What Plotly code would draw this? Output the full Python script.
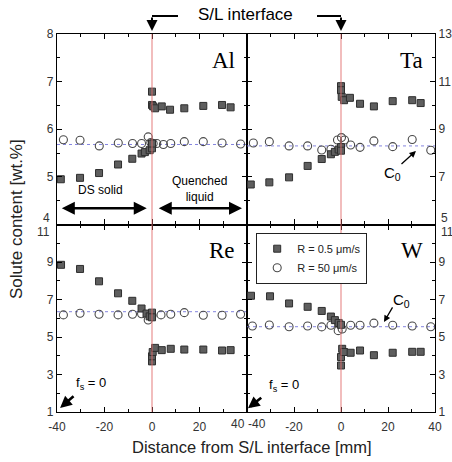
import plotly.graph_objects as go

W_PX, H_PX = 452, 462

# ---------------- data ----------------
al_sq_x = [-38.4, -30.3, -22.3, -14.3, -8.3, -4.4, -3.0, -1.0, 0.0, 0.0, 0.0, 0.0, 0.5, 1.3, 4.1, 7.6, 13.6, 21.6, 29.5, 33.1]
al_sq_y = [4.95, 4.98, 5.08, 5.26, 5.38, 5.49, 5.52, 5.56, 5.60, 5.70, 6.79, 6.51, 6.48, 6.44, 6.48, 6.41, 6.44, 6.49, 6.51, 6.46]
al_ci_x = [-37.3, -30.3, -22.2, -14.2, -8.2, -4.4, -1.6, -0.5, 0.5, 2.0, 4.8, 7.9, 13.6, 21.6, 29.5, 37.3]
al_ci_y = [5.78, 5.77, 5.65, 5.71, 5.70, 5.70, 5.84, 5.72, 5.70, 5.70, 5.68, 5.70, 5.74, 5.74, 5.71, 5.69]
al_c0 = 5.68

ta_sq_x = [-38.4, -30.5, -22.1, -14.2, -8.2, -4.3, -2.6, -1.0, 0.0, 0.0, 0.0, 0.0, 0.3, 1.3, 3.8, 8.1, 14.0, 22.0, 30.3, 33.9]
ta_sq_y = [6.68, 6.77, 6.98, 7.46, 7.75, 7.95, 8.05, 8.15, 8.25, 8.10, 10.81, 10.64, 10.36, 10.22, 10.32, 10.07, 9.96, 10.18, 10.22, 10.10]
ta_ci_x = [-37.3, -30.5, -22.1, -14.2, -8.2, -4.3, -1.5, 0.2, 1.5, 4.1, 8.1, 14.0, 22.0, 30.3, 38.2]
ta_ci_y = [8.42, 8.48, 8.30, 8.30, 8.13, 8.16, 8.55, 8.65, 8.55, 8.34, 8.24, 8.51, 8.27, 8.57, 8.12]
ta_c0 = 8.30

re_sq_x = [-38.3, -30.3, -22.3, -14.3, -8.3, -4.4, -2.3, -1.0, 0.0, 0.0, 0.0, 0.0, 0.3, 1.3, 4.1, 7.9, 13.6, 21.6, 29.5, 33.1]
re_sq_y = [8.85, 8.63, 7.97, 7.33, 6.93, 6.52, 6.25, 6.10, 6.30, 6.05, 3.70, 3.97, 4.20, 4.42, 4.30, 4.37, 4.33, 4.33, 4.28, 4.30]
re_ci_x = [-37.3, -30.3, -22.3, -14.3, -8.2, -4.4, -1.6, 0.0, 3.8, 7.9, 13.6, 21.6, 29.5, 37.3]
re_ci_y = [6.18, 6.27, 6.21, 6.18, 6.21, 6.24, 5.91, 6.15, 6.18, 6.21, 6.30, 6.16, 6.16, 6.21]
re_c0 = 6.35

w_sq_x = [-38.3, -30.2, -22.1, -14.2, -8.2, -4.3, -2.6, -1.0, 0.0, 0.0, 0.0, 0.5, 1.3, 4.1, 8.1, 14.0, 22.0, 30.3, 33.9]
w_sq_y = [7.20, 7.17, 6.79, 6.61, 6.39, 6.09, 5.90, 5.75, 5.65, 3.48, 3.93, 4.37, 4.20, 4.16, 4.28, 4.03, 4.16, 4.21, 4.21]
w_ci_x = [-37.7, -30.5, -22.1, -14.2, -8.2, -4.3, -1.2, 0.5, 4.1, 8.1, 14.0, 22.0, 30.3, 38.2]
w_ci_y = [5.59, 5.64, 5.55, 5.59, 5.54, 5.63, 5.34, 5.43, 5.63, 5.63, 5.74, 5.63, 5.59, 5.55]
w_c0 = 5.55

x_ticks = [-40, -20, 0, 20, 40]
al_ticks = [4, 5, 6, 7, 8]
ta_ticks = [5, 7, 9, 11, 13]
re_ticks = [1, 3, 5, 7, 9, 11]
w_ticks = [1, 3, 5, 7, 9, 11]
panel_names = ["Al", "Ta", "Re", "W"]
legend_names = ["R = 0.5 \u03bcm/s", "R = 50 \u03bcm/s"]

# ---------------- layout geometry ----------------
xl = [57 / W_PX, 247 / W_PX]
xr = [247 / W_PX, 435 / W_PX]
yt = [1 - 224.5 / H_PX, 1 - 34 / H_PX]
yb = [1 - 412 / H_PX, 1 - 224.5 / H_PX]

FONT = "Liberation Sans, Arial, sans-serif"
SERIF = "Liberation Serif, Times New Roman, serif"
SQ_FILL, SQ_EDGE = "#5e5e5e", "#2e2e2e"
CI_EDGE = "#4a4a4a"
RED = "rgba(225,110,110,0.9)"
BLUE = "rgba(120,120,220,0.9)"
TICKFONT = dict(family=FONT, size=12, color="#333")

fig = go.Figure()

panels = [
    ("x", "y", al_sq_x, al_sq_y, al_ci_x, al_ci_y, al_c0),
    ("x2", "y2", ta_sq_x, ta_sq_y, ta_ci_x, ta_ci_y, ta_c0),
    ("x3", "y3", re_sq_x, re_sq_y, re_ci_x, re_ci_y, re_c0),
    ("x4", "y4", w_sq_x, w_sq_y, w_ci_x, w_ci_y, w_c0),
]

for i, (xa, ya, sx, sy, cx, cy, c0) in enumerate(panels):
    fig.add_trace(go.Scatter(x=[-40, 40], y=[c0, c0], mode="lines", xaxis=xa, yaxis=ya,
                             line=dict(color=BLUE, width=1, dash="dot"), showlegend=False, hoverinfo="skip"))
    fig.add_trace(go.Scatter(x=cx, y=cy, mode="markers", xaxis=xa, yaxis=ya,
                             marker=dict(symbol="circle-open", size=8, color=CI_EDGE, line=dict(width=1.1, color=CI_EDGE)),
                             name=legend_names[1], showlegend=(i == 3), legendrank=2))
    fig.add_trace(go.Scatter(x=sx, y=sy, mode="markers", xaxis=xa, yaxis=ya,
                             marker=dict(symbol="square", size=7, color=SQ_FILL, line=dict(width=1, color=SQ_EDGE)),
                             name=legend_names[0], showlegend=(i == 3), legendrank=1))

axis_common = dict(showline=True, linecolor="black", linewidth=1.2, mirror="ticks",
                   ticks="inside", ticklen=5, tickwidth=1, tickcolor="black",
                   showgrid=False, zeroline=False, tickfont=TICKFONT, automargin=False)

def xaxis(domain, anchor, labels, hide=None):
    d = dict(axis_common)
    txt = ["" if v == hide else str(v) for v in x_ticks]
    d.update(domain=domain, anchor=anchor, range=[-40, 40], tickvals=x_ticks, ticktext=txt,
             showticklabels=labels, ticklabelstandoff=3,
             minor=dict(tickvals=[-30, -10, 10, 30], ticks="inside", ticklen=3, tickcolor="black"))
    return d

def yaxis(domain, anchor, rng, tickvals, minorvals, side, hide):
    d = dict(axis_common)
    txt = ["" if v == hide else str(v) for v in tickvals]
    d.update(domain=domain, anchor=anchor, range=rng, tickvals=tickvals, ticktext=txt, side=side,
             minor=dict(tickvals=minorvals, ticks="inside", ticklen=3, tickcolor="black"))
    return d

fig.update_layout(
    xaxis=xaxis(xl, "y", False),
    xaxis2=xaxis(xr, "y2", False),
    xaxis3=xaxis(xl, "y3", True, hide=40),
    xaxis4=xaxis(xr, "y4", True, hide=-40),
    yaxis=yaxis(yt, "x", [4, 8], al_ticks, [4.5, 5.5, 6.5, 7.5], "left", 4),
    yaxis2=yaxis(yt, "x2", [5, 13], ta_ticks, [6, 8, 10, 12], "right", 5),
    yaxis3=yaxis(yb, "x3", [1, 11], re_ticks, [2, 4, 6, 8, 10], "left", 11),
    yaxis4=yaxis(yb, "x4", [1, 11], w_ticks, [2, 4, 6, 8, 10], "right", 11),
)

shapes = []
for xa in ["x", "x2", "x3", "x4"]:
    shapes.append(dict(type="line", xref=xa, yref=xa.replace("x", "y") + " domain", x0=0, x1=0, y0=0, y1=1,
                       line=dict(color=RED, width=1)))

x0_left = xl[0] + (xl[1] - xl[0]) * 0.5
x0_right = xr[0] + (xr[1] - xr[0]) * 0.5
ytop_arrow = 1 - 16 / H_PX
shapes.append(dict(type="line", xref="paper", yref="paper", x0=178 / W_PX, x1=x0_left, y0=ytop_arrow, y1=ytop_arrow,
                   line=dict(color="black", width=2)))
shapes.append(dict(type="line", xref="paper", yref="paper", x0=317 / W_PX, x1=x0_right, y0=ytop_arrow, y1=ytop_arrow,
                   line=dict(color="black", width=2)))

annotations = []
annotations.append(dict(text="S/L interface", xref="paper", yref="paper", x=246 / W_PX, y=1 - 15 / H_PX,
                        showarrow=False, font=dict(family=FONT, size=17, color="black"), xanchor="center", yanchor="middle"))
for xp in [x0_left, x0_right]:
    annotations.append(dict(text="", xref="paper", yref="paper", x=xp, y=1 - 31 / H_PX, ax=0, ay=-15,
                            showarrow=True, arrowhead=2, arrowsize=1.1, arrowwidth=2, arrowcolor="black"))

# boundary tick labels, offset from each other as in the reference
annotations.append(dict(text=str(al_ticks[0]), xref="paper", yref="paper", x=52 / W_PX, y=1 - 218 / H_PX,
                        xanchor="right", yanchor="middle", showarrow=False, font=TICKFONT))
annotations.append(dict(text=str(re_ticks[-1]), xref="paper", yref="paper", x=52 / W_PX, y=1 - 232 / H_PX,
                        xanchor="right", yanchor="middle", showarrow=False, font=TICKFONT))
annotations.append(dict(text=str(ta_ticks[0]), xref="paper", yref="paper", x=439 / W_PX, y=1 - 218 / H_PX,
                        xanchor="left", yanchor="middle", showarrow=False, font=TICKFONT))
annotations.append(dict(text=str(w_ticks[-1]), xref="paper", yref="paper", x=439 / W_PX, y=1 - 232 / H_PX,
                        xanchor="left", yanchor="middle", showarrow=False, font=TICKFONT))
annotations.append(dict(text=str(x_ticks[-1]), xref="paper", yref="paper", x=247 / W_PX, y=1 - 424 / H_PX,
                        xanchor="right", yanchor="middle", showarrow=False, font=TICKFONT))
annotations.append(dict(text=str(x_ticks[0]), xref="paper", yref="paper", x=246 / W_PX, y=1 - 424 / H_PX,
                        xanchor="left", yanchor="middle", showarrow=False, font=TICKFONT))

annotations.append(dict(text="Solute content [wt.%]", xref="paper", yref="paper", x=16 / W_PX, y=1 - 219 / H_PX,
                        textangle=-90, showarrow=False, font=dict(family=FONT, size=17, color="#222"),
                        xanchor="center", yanchor="middle"))
annotations.append(dict(text="Distance from S/L interface [mm]", xref="paper", yref="paper", x=252 / W_PX, y=1 - 447 / H_PX,
                        showarrow=False, font=dict(family=FONT, size=16.5, color="#222"),
                        xanchor="center", yanchor="middle"))

for name, xa, ya in zip(panel_names, ["x", "x2", "x3", "x4"], ["y", "y2", "y3", "y4"]):
    annotations.append(dict(text=name, xref=xa + " domain", yref=ya + " domain", x=0.945, y=0.86,
                            showarrow=False, xanchor="right", yanchor="middle",
                            font=dict(family=SERIF, size=23, color="black")))

annotations.append(dict(text="DS solid", xref="x", yref="y", x=-21.5, y=4.72, showarrow=False,
                        font=dict(family=FONT, size=12, color="black")))
annotations.append(dict(text="Quenched<br>liquid", xref="x", yref="y", x=20, y=4.75, showarrow=False,
                        font=dict(family=FONT, size=12, color="black")))
for xa_, xb_ in [(-38.6, -2.2), (2.2, 37.9)]:
    annotations.append(dict(text="", xref="x", yref="y", x=xb_, y=4.34, ax=xa_, ay=4.34, axref="x", ayref="y",
                            showarrow=True, arrowhead=2, startarrowhead=2, arrowside="end+start",
                            arrowsize=1.0, startarrowsize=1.0, arrowwidth=2.6, arrowcolor="black"))

annotations.append(dict(text="C<sub>0</sub>", xref="x2", yref="y2", x=21.8, y=7.15, showarrow=False,
                        font=dict(family=FONT, size=15, color="black")))
annotations.append(dict(text="", xref="x2", yref="y2", x=31.9, y=8.09, ax=25.1, ay=7.48, axref="x2", ayref="y2",
                        showarrow=True, arrowhead=2, arrowsize=1, arrowwidth=1.3, arrowcolor="black"))
annotations.append(dict(text="C<sub>0</sub>", xref="x4", yref="y4", x=25.7, y=6.93, showarrow=False,
                        font=dict(family=FONT, size=15, color="black")))
annotations.append(dict(text="", xref="x4", yref="y4", x=18.3, y=5.80, ax=22.3, ay=6.66, axref="x4", ayref="y4",
                        showarrow=True, arrowhead=2, arrowsize=1, arrowwidth=1.3, arrowcolor="black"))

for xa, ya, tx, ty, hx, hy, tlx, tly in [("x3", "y3", -25.5, 2.5, -38.7, 1.22, -32.4, 1.91),
                                         ("x4", "y4", -24.2, 2.4, -39.6, 1.2, -33.3, 1.82)]:
    annotations.append(dict(text="f<sub>s</sub> = 0", xref=xa, yref=ya, x=tx, y=ty, showarrow=False,
                            font=dict(family=FONT, size=13, color="black")))
    annotations.append(dict(text="", xref=xa, yref=ya, x=hx, y=hy, ax=tlx, ay=tly, axref=xa, ayref=ya,
                            showarrow=True, arrowhead=2, arrowsize=0.9, arrowwidth=2.6, arrowcolor="black"))

fig.update_layout(
    width=W_PX, height=H_PX,
    margin=dict(l=0, r=0, t=0, b=0, autoexpand=False),
    paper_bgcolor="white", plot_bgcolor="white",
    shapes=shapes, annotations=annotations,
    legend=dict(x=256 / W_PX, y=1 - 233 / H_PX, xanchor="left", yanchor="top",
                bordercolor="#222", borderwidth=1.2, bgcolor="white",
                font=dict(family=FONT, size=11, color="#222"),
                itemwidth=30, tracegroupgap=0),
    showlegend=True,
)

fig.write_html("out.html")
